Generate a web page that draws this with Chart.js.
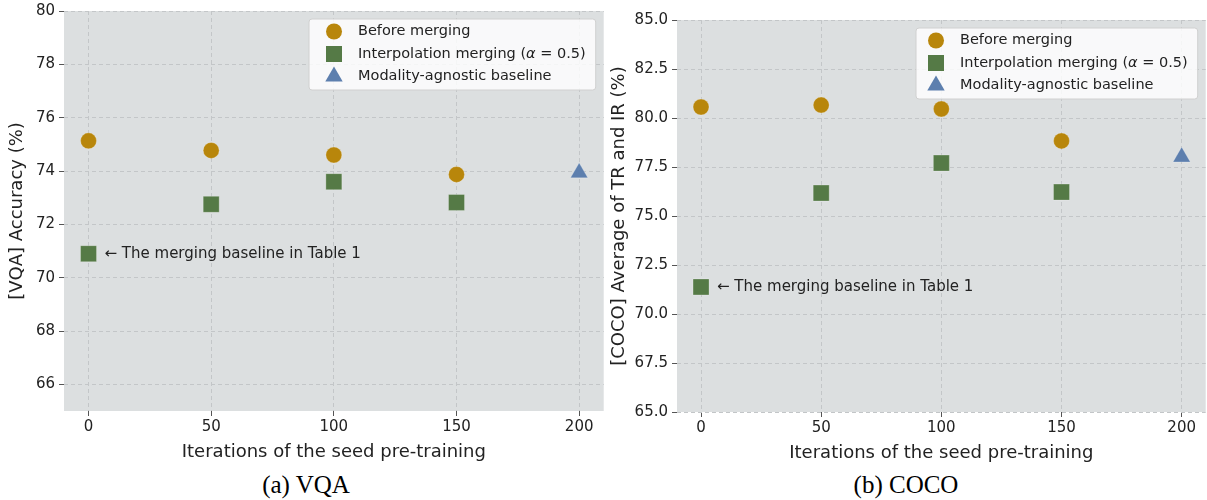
<!DOCTYPE html>
<html>
<head>
<meta charset="utf-8">
<script src="https://cdn.jsdelivr.net/npm/chart.js@4.4.0/dist/chart.umd.min.js"></script>
<style>
  body { margin: 0; background: #fff; width: 1207px; height: 500px; overflow: hidden; position: relative; }
  .box { position: absolute; }
  #boxA { left: 0; top: -2px; width: 616px; height: 472px; }
  #boxB { left: 606px; top: 0; width: 612px; height: 470px; }
  .cap { position: absolute; top: 471px; font-family: "Liberation Serif", serif; font-size: 25px; color: #000;
         transform: translateX(-50%); white-space: nowrap; }
</style>
</head>
<body>
<div class="box" id="boxA"><canvas id="chartA"></canvas></div>
<div class="box" id="boxB"><canvas id="chartB"></canvas></div>
<div class="cap" style="left:306px">(a) VQA</div>
<div class="cap" style="left:906px">(b) COCO</div>
<script>
// data
const iterations = [0, 50, 100, 150];
const baselineIter = 200;
const xTicks = [0, 50, 100, 150, 200];

const vqaBefore = [75.13, 74.77, 74.6, 73.87];
const vqaInterp = [70.9, 72.75, 73.6, 72.82];
const vqaAgnostic = 73.93;
const vqaTicks = [66, 68, 70, 72, 74, 76, 78, 80];

const cocoBefore = [80.56, 80.66, 80.46, 78.83];
const cocoInterp = [71.38, 76.17, 77.7, 76.22];
const cocoAgnostic = 78.01;
const cocoTicks = [65, 67.5, 70, 72.5, 75, 77.5, 80, 82.5, 85];

const legendLabels = ['Before merging', 'Interpolation merging (\u03b1 = 0.5)', 'Modality-agnostic baseline'];
const noteText = '\u2190 The merging baseline in Table 1';

const GOLD = '#b8860b';
const GREEN = '#557a46';
const BLUE = '#5d7fae';
const TXT = '#222222';
const FONT = '"DejaVu Sans", sans-serif';
const LEG_PX = 14.5;

function drawMarker(ctx, style, x, y, color) {
    ctx.fillStyle = color;
    ctx.beginPath();
    if (style === 'circle') {
        ctx.arc(x, y, 8, 0, Math.PI * 2);
    } else if (style === 'rect') {
        ctx.rect(x - 8, y - 8, 16, 16);
    } else {
        ctx.moveTo(x, y - 10);
        ctx.lineTo(x + 8.7, y + 5);
        ctx.lineTo(x - 8.7, y + 5);
        ctx.closePath();
    }
    ctx.fill();
}

// legend text, with the greek letter set in italic like matplotlib mathtext
function legendText(ctx, t, x, y, draw) {
    const parts = t.split('\u03b1');
    let cx = x;
    parts.forEach((p, i) => {
        ctx.font = LEG_PX + 'px ' + FONT;
        if (draw) ctx.fillText(p, cx, y);
        cx += ctx.measureText(p).width;
        if (i < parts.length - 1) {
            ctx.font = 'italic ' + LEG_PX + 'px ' + FONT;
            if (draw) ctx.fillText('\u03b1', cx, y);
            cx += ctx.measureText('\u03b1').width;
        }
    });
    ctx.font = LEG_PX + 'px ' + FONT;
    return cx - x;
}

function build(id, o) {
    const bgPlugin = {
        id: 'bg',
        beforeDraw(chart) {
            const a = chart.chartArea, ctx = chart.ctx;
            ctx.save();
            ctx.fillStyle = '#dcdfe0';
            ctx.fillRect(a.left, a.top, a.right - a.left, a.bottom - a.top);
            ctx.restore();
        }
    };
    const extras = {
        id: 'extras',
        afterDatasetsDraw(chart) {
            const a = chart.chartArea, ctx = chart.ctx;
            ctx.save();
            // note next to the first square
            ctx.font = '15px ' + FONT;
            ctx.fillStyle = TXT;
            ctx.textBaseline = 'middle';
            ctx.fillText(noteText, chart.scales.x.getPixelForValue(0) + 16, chart.scales.y.getPixelForValue(o.interp[0]));
            // legend box
            const tw = Math.max(...legendLabels.map(t => legendText(ctx, t, 0, 0, false)));
            const w = o.legMark + 24 + tw + 10, h = 71;
            const bx = a.right - 8 - w, by = a.top + 8;
            ctx.beginPath();
            ctx.roundRect(bx, by, w, h, 3);
            ctx.fillStyle = 'rgba(255,255,255,0.82)';
            ctx.fill();
            ctx.strokeStyle = '#d0d0d0';
            ctx.lineWidth = 1;
            ctx.stroke();
            const styles = ['circle', 'rect', 'triangle'];
            const cols = [GOLD, GREEN, BLUE];
            legendLabels.forEach((t, i) => {
                const yy = by + 12.5 + i * 22.5;
                drawMarker(ctx, styles[i], bx + o.legMark, yy, cols[i]);
                ctx.fillStyle = TXT;
                legendText(ctx, t, bx + o.legMark + 24, yy, true);
            });
            ctx.restore();
        }
    };
    return new Chart(document.getElementById(id), {
        type: 'scatter',
        data: {
            datasets: [
                { label: legendLabels[0], data: iterations.map((x, i) => ({ x: x, y: o.before[i] })),
                  pointStyle: 'circle', pointRadius: 8, backgroundColor: GOLD, borderColor: 'rgba(255,255,255,0.25)', borderWidth: 1 },
                { label: legendLabels[1], data: iterations.map((x, i) => ({ x: x, y: o.interp[i] })),
                  pointStyle: 'rect', pointRadius: 11.3, backgroundColor: GREEN, borderColor: 'rgba(255,255,255,0.25)', borderWidth: 1 },
                { label: legendLabels[2], data: [{ x: baselineIter, y: o.agnostic }],
                  pointStyle: 'triangle', pointRadius: 10, backgroundColor: BLUE, borderColor: 'rgba(255,255,255,0.25)', borderWidth: 1 }
            ]
        },
        options: {
            responsive: true,
            maintainAspectRatio: false,
            animation: false,
            layout: { padding: o.padding },
            plugins: { legend: { display: false }, tooltip: { enabled: false } },
            scales: {
                x: {
                    type: 'linear', min: -10, max: 210,
                    afterBuildTicks: s => { s.ticks = xTicks.map(v => ({ value: v })); },
                    afterFit: s => { s.height = 56; },
                    title: { display: true, text: 'Iterations of the seed pre-training', color: TXT, font: { family: FONT, size: 18 }, padding: { top: 2, bottom: 4 } },
                    ticks: { color: TXT, font: { family: FONT, size: 15 }, padding: 2, maxRotation: 0 },
                    grid: { color: '#c3c6c8', tickColor: '#555', tickLength: 5, tickBorderDash: [] },
                    border: { display: false, dash: [4, 3] }
                },
                y: {
                    type: 'linear', min: o.min, max: o.max,
                    afterBuildTicks: s => { s.ticks = o.ticks.map(v => ({ value: v })); },
                    afterFit: s => { s.width = o.yWidth; },
                    title: { display: true, text: o.yTitle, color: TXT, font: { family: FONT, size: 18 }, padding: { top: 0, bottom: 4 } },
                    ticks: { color: TXT, font: { family: FONT, size: 15 }, padding: 4, callback: o.fmt },
                    grid: { color: '#c3c6c8', tickColor: '#555', tickLength: 5, tickBorderDash: [] },
                    border: { display: false, dash: [4, 3] }
                }
            }
        },
        plugins: [bgPlugin, extras]
    });
}

build('chartA', {
    before: vqaBefore, interp: vqaInterp, agnostic: vqaAgnostic, ticks: vqaTicks,
    min: 65, max: 80, yWidth: 57, yTitle: '[VQA] Accuracy (%)',
    fmt: v => String(v), legMark: 25,
    padding: { left: 7, right: 2, top: 12, bottom: 3 }
});
build('chartB', {
    before: cocoBefore, interp: cocoInterp, agnostic: cocoAgnostic, ticks: cocoTicks,
    min: 65, max: 85, yWidth: 68, yTitle: '[COCO] Average of TR and IR (%)',
    fmt: v => v.toFixed(1), legMark: 20,
    padding: { left: 3, right: 2, top: 20, bottom: 2 }
});
</script>
</body>
</html>
